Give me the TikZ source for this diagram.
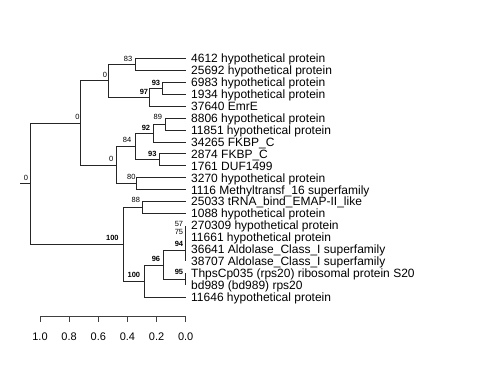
\documentclass[tikz,border=0pt]{standalone}
\usepackage{fontspec}
\setmainfont{Liberation Sans}
\begin{document}
\begin{tikzpicture}[x=1pt,y=-1pt,
  br/.style={draw=black!85,line width=0.9pt},
  tip/.style={anchor=west,inner xsep=5.3pt,inner ysep=0pt,font=\fontsize{12}{12}\selectfont,text height=8.6pt,text depth=0pt},
  nl/.style={anchor=south east,inner sep=0pt,font=\fontsize{7.5}{7.5}\selectfont},
  nlb/.style={anchor=south east,inner sep=0pt,font=\fontsize{7.5}{7.5}\selectfont\bfseries},
  axl/.style={font=\fontsize{11}{11}\selectfont,inner sep=0pt},
  axis/.style={draw=black!75,line width=0.9pt}]
\useasboundingbox (0,0) rectangle (480,384);
% leaves
\node[tip] (l1) at (185.7,58.5) {4612 hypothetical protein};
\node[tip] (l2) at (185.7,70.43) {25692 hypothetical protein};
\node[tip] (l3) at (185.7,82.36) {6983 hypothetical protein};
\node[tip] (l4) at (185.7,94.29) {1934 hypothetical protein};
\node[tip] (l5) at (185.7,106.22) {37640 EmrE};
\node[tip] (l6) at (185.7,118.15) {8806 hypothetical protein};
\node[tip] (l7) at (185.7,130.08) {11851 hypothetical protein};
\node[tip] (l8) at (185.7,142.01) {34265 FKBP\_C};
\node[tip] (l9) at (185.7,153.94) {2874 FKBP\_C};
\node[tip] (l10) at (185.7,165.87) {1761 DUF1499};
\node[tip] (l11) at (185.7,177.8) {3270 hypothetical protein};
\node[tip] (l12) at (185.7,189.73) {1116 Methyltransf\_16 superfamily};
\node[tip] (l13) at (185.7,201.66) {25033 tRNA\_bind\_EMAP-II\_like};
\node[tip] (l14) at (185.7,213.59) {1088 hypothetical protein};
\node[tip] (l15) at (185.7,225.52) {270309 hypothetical protein};
\node[tip] (l16) at (185.7,237.45) {11661 hypothetical protein};
\node[tip] (l17) at (185.7,249.38) {36641 Aldolase\_Class\_I superfamily};
\node[tip] (l18) at (185.7,261.31) {38707 Aldolase\_Class\_I superfamily};
\node[tip] (l19) at (185.7,273.24) {ThpsCp035 (rps20) ribosomal protein S20};
\node[tip] (l20) at (185.7,285.17) {bd989 (bd989) rps20};
\node[tip] (l21) at (185.7,297.1) {11646 hypothetical protein};
% internal nodes
\coordinate (r0) at (20,183.68);
\coordinate (root) at (30.7,183.68);
\coordinate (A) at (80.7,123.0);
\coordinate (H) at (108.3,80.87);
\coordinate (J) at (135,64.47);
\coordinate (K) at (149.3,97.27);
\coordinate (M) at (162.3,88.33);
\coordinate (I) at (116,165.12);
\coordinate (N) at (135,146.48);
\coordinate (P) at (153.3,133.06);
\coordinate (R) at (165.7,124.12);
\coordinate (Q) at (159.5,159.9);
\coordinate (O) at (136.7,183.77);
\coordinate (B) at (123.3,244.35);
\coordinate (C) at (142.7,207.63);
\coordinate (D) at (144.3,281.07);
\coordinate (E) at (163.3,265.04);
\coordinate (n94) at (185.7,250.87);
\coordinate (n75) at (185.7,240.43);
\coordinate (n57) at (185.7,231.49);
\coordinate (G) at (185.7,279.2);
% branches
\draw[br] (r0) -- (root);
\draw[br] (root) |- (A);
\draw[br] (root) |- (B);
\draw[br] (A) |- (H);
\draw[br] (A) |- (I);
\draw[br] (H) |- (J);
\draw[br] (H) |- (K);
\draw[br] (J) |- (l1.west);
\draw[br] (J) |- (l2.west);
\draw[br] (K) |- (M);
\draw[br] (K) |- (l5.west);
\draw[br] (M) |- (l3.west);
\draw[br] (M) |- (l4.west);
\draw[br] (I) |- (N);
\draw[br] (I) |- (O);
\draw[br] (N) |- (P);
\draw[br] (N) |- (Q);
\draw[br] (P) |- (R);
\draw[br] (P) |- (l8.west);
\draw[br] (R) |- (l6.west);
\draw[br] (R) |- (l7.west);
\draw[br] (Q) |- (l9.west);
\draw[br] (Q) |- (l10.west);
\draw[br] (O) |- (l11.west);
\draw[br] (O) |- (l12.west);
\draw[br] (B) |- (C);
\draw[br] (B) |- (D);
\draw[br] (C) |- (l13.west);
\draw[br] (C) |- (l14.west);
\draw[br] (D) |- (E);
\draw[br] (D) |- (l21.west);
\draw[br] (E) |- (n94);
\draw[br] (E) |- (G);
\draw[br] (n94) |- (n75);
\draw[br] (n94) |- (l18.west);
\draw[br] (n75) |- (n57);
\draw[br] (n75) |- (l17.west);
\draw[br] (n57) |- (l15.west);
\draw[br] (n57) |- (l16.west);
\draw[br] (G) |- (l19.west);
\draw[br] (G) |- (l20.west);
% node labels
\node[nl] (s0) at ([shift={(-2.5pt,2.5pt)}]root) {0};
\node[nl] (sA) at ([shift={(-1pt,3pt)}]A) {0};
\node[nl] (sH) at ([shift={(-1pt,3pt)}]H) {0};
\node[nl] (sJ) at ([shift={(-2.5pt,3pt)}]J) {83};
\node[nlb] (sK) at ([shift={(-1pt,2.5pt)}]K) {97};
\node[nlb] (sM) at ([shift={(-2pt,3pt)}]M) {93};
\node[nl] (sI) at ([shift={(-2.5pt,3pt)}]I) {0};
\node[nl] (sN) at ([shift={(-3.5pt,3.5pt)}]N) {84};
\node[nlb] (sP) at ([shift={(-3pt,2pt)}]P) {92};
\node[nl] (sR) at ([shift={(-3.5pt,4pt)}]R) {89};
\node[nlb] (sQ) at ([shift={(-2.8pt,3.5pt)}]Q) {93};
\node[nl] (sO) at ([shift={(-1pt,4.5pt)}]O) {80};
\node[nlb] (sB) at ([shift={(-4.5pt,3.5pt)}]B) {100};
\node[nl] (sC) at ([shift={(-2.5pt,5pt)}]C) {88};
\node[nlb] (sD) at ([shift={(-4pt,3.5pt)}]D) {100};
\node[nlb] (sE) at ([shift={(-3pt,3.5pt)}]E) {96};
\node[nl] (s57) at ([shift={(-2.4pt,4.5pt)}]n57) {57};
\node[nl] (s75) at ([shift={(-2.4pt,5.5pt)}]n75) {75};
\node[nlb] (s94) at ([shift={(-2.4pt,4.5pt)}]n94) {94};
\node[nlb] (sG) at ([shift={(-2.4pt,4pt)}]G) {95};
% axis
\coordinate (ax0) at (40,316.7);
\coordinate (ax5) at (185.7,316.7);
\draw[axis] (ax0) -- (ax5);
\foreach \i/\lab in {0/1.0,1/0.8,2/0.6,3/0.4,4/0.2,5/0.0}{
  \draw[axis] ({40+\i*29.14},316.7) -- ({40+\i*29.14},321.5);
  \node[axl] (axl\i) at ({40+\i*29.14},336.5) {\lab};
}
\end{tikzpicture}
\end{document}
